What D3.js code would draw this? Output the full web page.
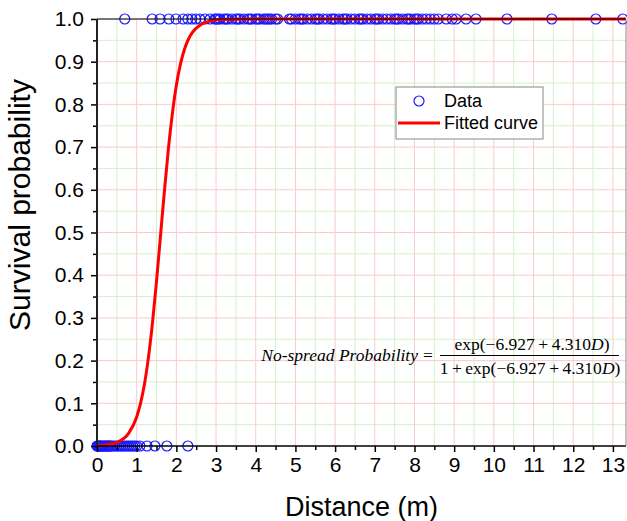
<!DOCTYPE html>
<html><head><meta charset="utf-8">
<script src="https://cdn.jsdelivr.net/npm/d3@7"></script>
<style>
html,body{margin:0;padding:0;background:#fff;}
svg{display:block;}
</style></head>
<body>
<svg id="chart" width="627" height="521"></svg>
<script>
// ---- data ----
const survivedD = [0.70,1.39,1.59,1.81,1.99,2.17,2.29,2.39,2.49,2.59,2.72,2.85,2.97,
  3.0,3.05,3.1,3.2,3.25,3.3,3.4,3.5,3.55,3.6,3.7,3.8,3.85,3.9,4.0,4.05,4.1,4.2,4.25,4.3,4.35,4.4,4.5,4.55,
  4.85,4.9,5.0,5.1,5.15,5.2,5.3,5.4,5.5,5.55,5.6,5.7,5.8,5.9,5.95,6.0,6.1,6.2,6.25,6.3,6.4,6.5,6.6,6.65,
  6.7,6.8,6.9,7.0,7.05,7.1,7.2,7.3,7.4,7.5,7.55,7.6,7.7,7.8,7.85,7.9,8.0,8.05,8.1,8.2,8.3,8.4,8.5,8.6,
  8.8,8.95,9.05,9.3,9.55,10.33,11.46,12.57,13.25];
const spreadD = [0,0.02,0.04,0.06,0.08,0.1,0.12,0.15,0.18,0.2,0.23,0.25,0.28,0.3,0.33,0.35,0.4,0.45,0.5,
  0.55,0.6,0.65,0.7,0.75,0.8,0.85,0.9,0.95,1.0,1.08,1.26,1.46,1.76,2.29];
const curveD = [0,0.2,0.5,0.8,1.0,1.1,1.2,1.3,1.4,1.5,1.6,1.7,1.8,1.9,2.0,2.1,2.2,2.3,2.4,2.6,2.8,3.0,3.5,4.5,13.33];
const curveP = [0.001,0.0023,0.0084,0.030,0.068,0.101,0.147,0.210,0.290,0.386,0.492,0.598,0.697,0.779,0.845,0.893,0.928,0.952,0.968,0.986,0.994,0.998,0.9997,1.0,1.0];
const xTicks = [0,1,2,3,4,5,6,7,8,9,10,11,12,13];
const xMinor = [0.5,1.5,2.5,3.5,4.5,5.5,6.5,7.5,8.5,9.5,10.5,11.5,12.5];
const yTicks = [0,0.1,0.2,0.3,0.4,0.5,0.6,0.7,0.8,0.9,1.0];
const yMinor = [0.05,0.15,0.25,0.35,0.45,0.55,0.65,0.75,0.85,0.95];
const legendLabels = ["Data","Fitted curve"];

const svg = d3.select("#chart");
const L=97, R=626, T=19, B=446;
const x = d3.scaleLinear().domain([0,13.33]).range([L,R]);
const y = d3.scaleLinear().domain([0,1]).range([B,T]);

// grid
const g = svg.append("g");
g.selectAll(".vmin").data(xMinor).join("line")
  .attr("x1",d=>x(d)).attr("x2",d=>x(d)).attr("y1",T).attr("y2",B)
  .attr("stroke","#d6f0cc").attr("stroke-width",1);
g.selectAll(".hmin").data(yMinor).join("line")
  .attr("x1",L).attr("x2",R).attr("y1",d=>y(d)).attr("y2",d=>y(d))
  .attr("stroke","#d6f0cc").attr("stroke-width",1);
g.selectAll(".vmaj").data(xTicks.filter(d=>d>0)).join("line")
  .attr("x1",d=>x(d)).attr("x2",d=>x(d)).attr("y1",T).attr("y2",B)
  .attr("stroke","#f8cccc").attr("stroke-width",1);
g.selectAll(".hmaj").data(yTicks.filter(d=>d>0)).join("line")
  .attr("x1",L).attr("x2",R).attr("y1",d=>y(d)).attr("y2",d=>y(d))
  .attr("stroke","#f8cccc").attr("stroke-width",1);

// data points
const pts = svg.append("g").attr("fill","none").attr("stroke","#1a1aff").attr("stroke-width",1.2);
pts.selectAll(".s").data(survivedD).join("circle")
  .attr("cx",d=>x(d)).attr("cy",y(1)).attr("r",5);
pts.selectAll(".f").data(spreadD).join("circle")
  .attr("cx",d=>x(d)).attr("cy",y(0)).attr("r",5);

// fitted curve
const line = d3.line().x((d,i)=>x(curveD[i])).y((d,i)=>y(curveP[i])).curve(d3.curveMonotoneX);
svg.append("path").datum(curveD).attr("d",line)
  .attr("fill","none").attr("stroke","#ff0000").attr("stroke-width",3);

// axes
const font = "'Liberation Sans', Arial, sans-serif";
const xAxis = svg.append("g").attr("transform",`translate(0,${B})`)
  .call(d3.axisBottom(x).tickValues(xTicks).tickSize(6).tickPadding(5).tickFormat(d3.format("d")));
const xAxisMinor = svg.append("g").attr("transform",`translate(0,${B})`)
  .call(d3.axisBottom(x).tickValues(xMinor).tickSize(4).tickFormat(""));
const yAxis = svg.append("g").attr("transform",`translate(${L},0)`)
  .call(d3.axisLeft(y).tickValues(yTicks).tickSize(6).tickPadding(7).tickFormat(d3.format(".1f")));
const yAxisMinor = svg.append("g").attr("transform",`translate(${L},0)`)
  .call(d3.axisLeft(y).tickValues(yMinor).tickSize(4).tickFormat(""));
[xAxis,xAxisMinor,yAxis,yAxisMinor].forEach(a=>{
  a.select(".domain").remove();
  a.selectAll("line").attr("stroke","#000").attr("stroke-width",1.5);
  a.selectAll("text").attr("font-family",font).attr("font-size",21).attr("fill","#000");
});
xAxis.selectAll("text").attr("dy","0.71em");
// frame
svg.append("line").attr("x1",L-1).attr("x2",R).attr("y1",B).attr("y2",B).attr("stroke","#000").attr("stroke-width",1.5);
svg.append("line").attr("x1",L).attr("x2",L).attr("y1",T).attr("y2",B).attr("stroke","#222").attr("stroke-width",2);
svg.append("line").attr("x1",L).attr("x2",R).attr("y1",T).attr("y2",T).attr("stroke","#000").attr("stroke-width",1.2);
svg.append("line").attr("x1",R).attr("x2",R).attr("y1",T).attr("y2",B).attr("stroke","#888").attr("stroke-width",1);

// axis titles
svg.append("text").attr("x",(L+R)/2).attr("y",516).attr("text-anchor","middle")
  .attr("font-family",font).attr("font-size",27).text("Distance (m)");
svg.append("text").attr("transform",`translate(30,205) rotate(-90)`).attr("text-anchor","middle")
  .attr("font-family",font).attr("font-size",30).text("Survival probability");

// legend
const lg = svg.append("g");
lg.append("rect").attr("x",396).attr("y",87).attr("width",147).attr("height",52)
  .attr("fill","#fff").attr("stroke","#888").attr("stroke-width",1);
lg.append("circle").attr("cx",419).attr("cy",101).attr("r",5).attr("fill","none").attr("stroke","#1a1aff").attr("stroke-width",1.2);
lg.append("line").attr("x1",398).attr("x2",440).attr("y1",123).attr("y2",123).attr("stroke","#ff0000").attr("stroke-width",3);
lg.selectAll("text").data(legendLabels).join("text")
  .attr("x",444).attr("y",(d,i)=>107+i*22).attr("font-family",font).attr("font-size",18).text(d=>d);

// formula
const serif = "'Liberation Serif','Times New Roman',serif";
const fm = svg.append("g").attr("font-family",serif).attr("font-size",17.5).attr("fill","#000");
fm.append("text").attr("x",418).attr("y",361).attr("text-anchor","end").attr("font-style","italic").text("No-spread Probability");
fm.append("text").attr("x",428).attr("y",361).attr("text-anchor","middle").text("=");
fm.append("line").attr("x1",440).attr("x2",619).attr("y1",355.5).attr("y2",355.5).attr("stroke","#000").attr("stroke-width",1);
const num = fm.append("text").attr("x",532).attr("y",350).attr("text-anchor","middle");
num.append("tspan").text("exp(\u22126.927\u2009+\u20094.310");
num.append("tspan").attr("font-style","italic").text("D");
num.append("tspan").text(")");
const den = fm.append("text").attr("x",530).attr("y",374).attr("text-anchor","middle");
den.append("tspan").text("1\u2009+\u2009exp(\u22126.927\u2009+\u20094.310");
den.append("tspan").attr("font-style","italic").text("D");
den.append("tspan").text(")");
</script>
</body></html>
